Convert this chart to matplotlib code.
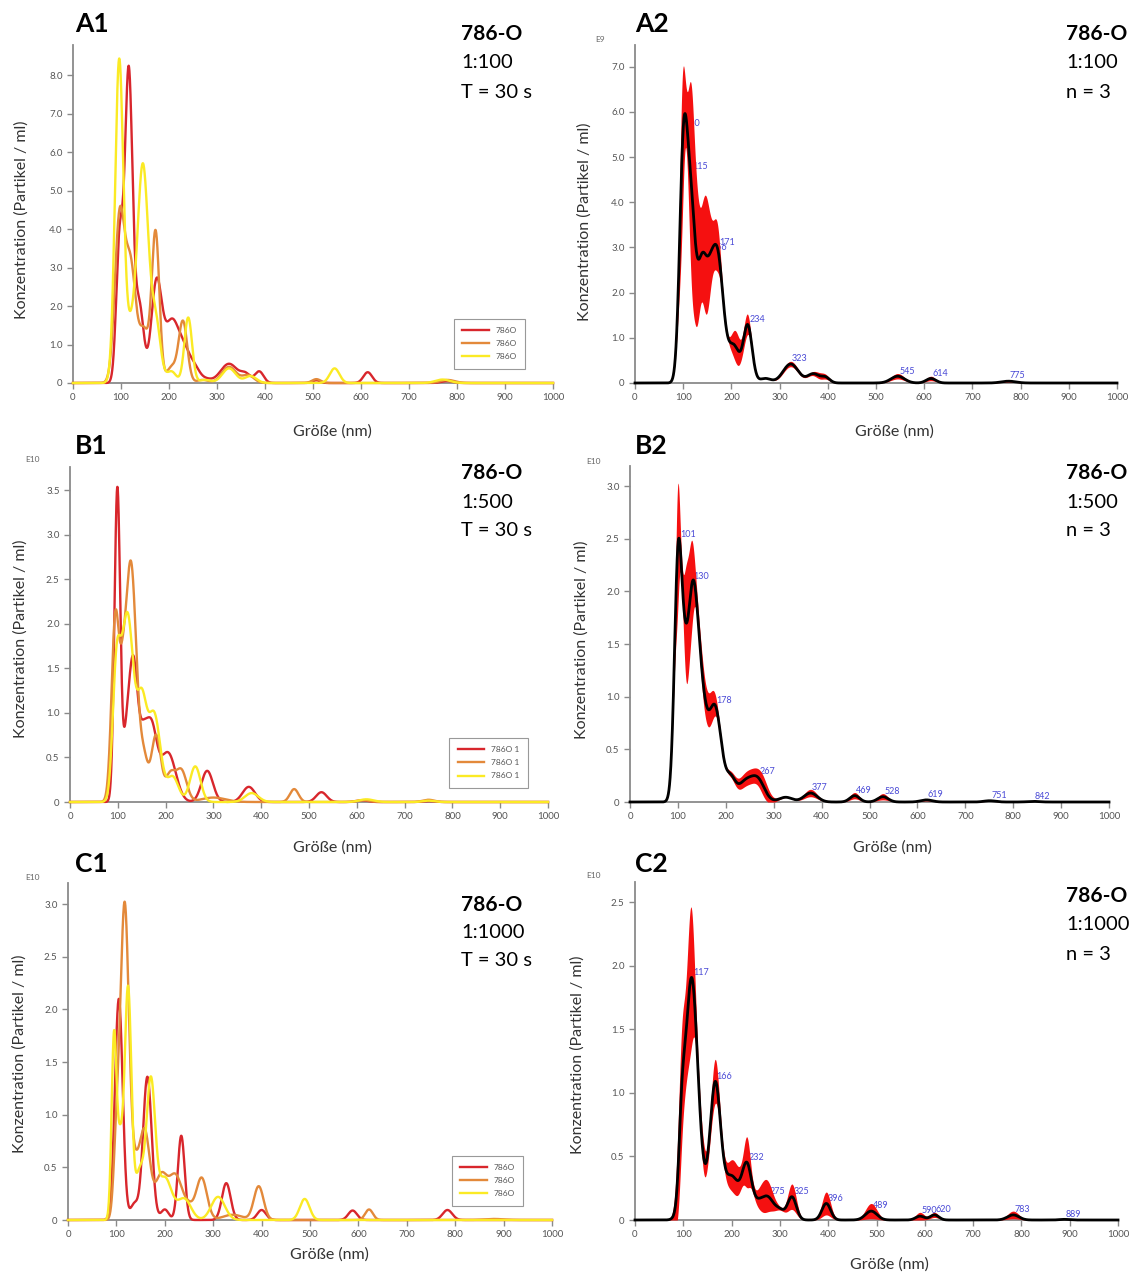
import numpy as np
import matplotlib.pyplot as plt
from matplotlib.ticker import FixedLocator, FuncFormatter

plt.rcParams['font.family'] = ['Lato', 'DejaVu Sans']

# size axis in nm
size = np.linspace(0, 1000, 4001)

# every distribution is a list of peaks: (size nm, height, width nm)
# 1:100, single runs
a1_red = [(97, 3.6, 7), (116, 8.05, 8), (138, 2.0, 9), (174, 2.6, 11), (205, 1.5, 14),
          (232, 0.8, 14), (255, 0.25, 10), (275, 0.1, 12), (325, 0.5, 18), (360, 0.2, 10),
          (388, 0.3, 9), (507, 0.07, 8), (614, 0.28, 9), (779, 0.05, 12)]
a1_orange = [(97, 4.2, 10), (120, 3.0, 11), (148, 1.3, 10), (172, 3.9, 8), (205, 0.4, 10),
             (229, 1.6, 9), (270, 0.08, 12), (325, 0.42, 15), (365, 0.2, 12), (507, 0.1, 9),
             (780, 0.08, 15)]
a1_yellow = [(96, 8.1, 8.5), (120, 1.4, 14), (146, 5.4, 11), (172, 1.6, 10), (205, 0.3, 10),
             (240, 1.7, 8), (275, 0.08, 12), (325, 0.38, 14), (370, 0.18, 12), (545, 0.38, 10),
             (770, 0.09, 15)]

# 1:100, mean of n = 3 with spread
a2_mean = [(100, 4.4, 8), (115, 3.8, 10), (140, 2.5, 10), (156, 0.9, 8), (171, 2.8, 12),
           (205, 0.8, 12), (234, 1.25, 9), (270, 0.1, 12), (323, 0.42, 16), (370, 0.2, 12),
           (395, 0.12, 9), (545, 0.15, 14), (614, 0.1, 10), (775, 0.04, 15)]
a2_spread = [(97, 1.6, 5), (117, 2.0, 6), (128, 1.1, 6), (147, 1.3, 9), (170, 0.5, 7),
             (210, 0.35, 9), (232, 0.22, 7), (323, 0.06, 20), (385, 0.07, 15), (545, 0.06, 14),
             (614, 0.05, 9), (775, 0.02, 15)]
a2_labels = [100, 115, 156, 171, 234, 323, 545, 614, 775]

# 1:500, single runs
b1_red = [(99, 3.5, 6), (118, 0.6, 8), (133, 1.5, 9), (152, 0.45, 8), (169, 0.85, 12),
          (205, 0.55, 16), (287, 0.35, 12), (374, 0.17, 13), (526, 0.11, 11), (610, 0.02, 12),
          (750, 0.01, 12)]
b1_orange = [(95, 2.05, 8), (110, 0.5, 6), (127, 2.7, 12), (155, 0.4, 8), (180, 0.75, 10),
             (210, 0.3, 10), (233, 0.35, 11), (300, 0.05, 25), (469, 0.145, 9), (615, 0.02, 12),
             (750, 0.025, 12)]
b1_yellow = [(97, 1.3, 8), (120, 2.1, 13), (150, 1.0, 10), (176, 0.98, 13), (215, 0.28, 12),
             (262, 0.4, 11), (380, 0.1, 14), (620, 0.03, 15), (750, 0.015, 12)]

# 1:500, mean of n = 3 with spread
b2_mean = [(101, 2.35, 8), (114, 0.35, 6), (130, 1.9, 12), (150, 0.7, 12), (178, 0.87, 13),
           (210, 0.2, 10), (240, 0.18, 15), (267, 0.2, 14), (325, 0.045, 14), (377, 0.085, 14),
           (469, 0.06, 10), (528, 0.05, 11), (619, 0.02, 12), (751, 0.012, 12), (842, 0.006, 12)]
b2_spread = [(99, 0.6, 4), (117, 0.45, 5), (127, 0.4, 6), (150, 0.14, 10), (170, 0.13, 10),
             (250, 0.07, 30), (280, 0.05, 10), (377, 0.035, 14), (469, 0.03, 10), (528, 0.03, 10),
             (619, 0.01, 10), (751, 0.006, 10)]
b2_labels = [101, 130, 178, 267, 377, 469, 528, 619, 751, 842]

# 1:1000, single runs
c1_red = [(105, 2.1, 8), (137, 0.15, 8), (164, 1.36, 9), (200, 0.1, 8), (234, 0.8, 7),
          (327, 0.35, 9), (400, 0.095, 9), (588, 0.09, 9), (784, 0.095, 10)]
c1_orange = [(100, 0.6, 6), (117, 3.0, 9), (138, 0.35, 8), (158, 0.85, 11), (192, 0.4, 12),
             (222, 0.42, 14), (250, 0.1, 10), (276, 0.4, 11), (340, 0.05, 20), (394, 0.32, 10),
             (622, 0.1, 8), (880, 0.01, 20)]
c1_yellow = [(95, 1.7, 5), (107, 0.7, 6), (124, 2.2, 7), (148, 0.45, 9), (171, 1.3, 9),
             (200, 0.4, 14), (240, 0.2, 14), (310, 0.22, 14), (489, 0.2, 10)]

# 1:1000, mean of n = 3 with spread
c2_mean = [(97, 0.5, 6), (117, 1.9, 13), (140, 0.1, 10), (166, 1.05, 11), (200, 0.34, 16),
           (232, 0.4, 10), (255, 0.1, 10), (275, 0.17, 12), (300, 0.07, 10), (325, 0.18, 9),
           (396, 0.13, 9), (489, 0.07, 12), (590, 0.03, 9), (620, 0.04, 9), (783, 0.04, 12),
           (889, 0.005, 10)]
c2_spread = [(95, 0.45, 8), (115, 0.55, 7), (140, 0.12, 8), (165, 0.17, 8), (205, 0.13, 15),
             (232, 0.17, 6), (270, 0.13, 14), (325, 0.1, 9), (396, 0.09, 9), (489, 0.06, 12),
             (590, 0.03, 9), (620, 0.02, 9), (783, 0.03, 12)]
c2_labels = [117, 166, 232, 275, 325, 396, 489, 590, 620, 783, 889]

dilutions = ['1:100', '1:500', '1:1000']
run_names = ['786O', '786O 1', '786O']
run_colors = ['#d8262c', '#e3893a', '#fbea24']


def dist(peaks):
    y = np.zeros_like(size)
    for mu, h, s in peaks:
        y += h * np.exp(-0.5 * ((size - mu) / s) ** 2)
    return y


W, H = 1140, 1276
fig = plt.figure(figsize=(W / 100, H / 100), dpi=100)


def px_axes(x0, x1, top, bottom):
    return fig.add_axes([x0 / W, 1 - bottom / H, (x1 - x0) / W, (bottom - top) / H])


def px_text(x, y, s, **kw):
    fig.text(x / W, 1 - y / H, s, **kw)


def style(ax, ymax, ytop, step):
    ax.set_xlim(0, 1000)
    ax.set_ylim(0, ymax)
    for side in ['top', 'right']:
        ax.spines[side].set_visible(False)
    for side in ['left', 'bottom']:
        ax.spines[side].set_color('#8a8a8a')
        ax.spines[side].set_linewidth(1.3)
    ax.xaxis.set_major_locator(FixedLocator(range(0, 1001, 100)))
    ax.yaxis.set_major_locator(FixedLocator(np.arange(0, ytop + 1e-9, step)))
    ax.yaxis.set_major_formatter(FuncFormatter(lambda v, p: '0' if v == 0 else f'{v:.1f}'))
    ax.tick_params(direction='out', length=4, width=1, color='#8a8a8a',
                   labelsize=7, labelcolor='#555555')
    ax.patch.set_alpha(0)


def runs_panel(ax, curves, names):
    handles = []
    for peaks, c in zip(curves, run_colors):
        h, = ax.plot(size, dist(peaks), color=c, lw=1.7, zorder=3, clip_on=False)
        handles.append(h)
    leg = ax.legend(handles, names, loc='lower left', bbox_to_anchor=(0.785, 0.03),
                    fontsize=6, frameon=True, fancybox=False, edgecolor='#999999',
                    handlelength=3.2, borderpad=1.0, labelspacing=0.75, framealpha=1)
    leg.get_frame().set_linewidth(0.8)
    for t in leg.get_texts():
        t.set_color('#555555')


def mean_panel(ax, mean_peaks, spread_peaks, labels):
    m = dist(mean_peaks)
    e = dist(spread_peaks)
    # peak labels sit under the spread band, as in the instrument export
    for lab in labels:
        ax.annotate(str(lab), (lab, np.interp(lab, size, m)), xytext=(1, 0.5),
                    textcoords='offset points', ha='left', va='bottom',
                    fontsize=6.5, color='#4a4ad6', zorder=2)
    ax.fill_between(size, np.clip(m - e, 0, None), m + e, color='#f51010', lw=0, zorder=2.6)
    ax.plot(size, m, color='black', lw=2, zorder=3, clip_on=False)


panels = [
    # name, axes box (px), ymax, top tick, step, exponent label
    ('A1', (73, 553, 45, 383), 8.78, 8.0, 1.0, None),
    ('A2', (635, 1117, 45, 383), 7.48, 7.0, 1.0, ('E9', 595, 39)),
    ('B1', (70, 548, 467, 802), 3.76, 3.5, 0.5, ('E10', 25, 460)),
    ('B2', (630, 1109, 466, 802), 3.19, 3.0, 0.5, ('E10', 586, 461)),
    ('C1', (68, 552, 883, 1220), 3.2, 3.0, 0.5, ('E10', 25, 877)),
    ('C2', (635, 1118, 882, 1220), 2.66, 2.5, 0.5, ('E10', 586, 875)),
]
run_sets = [[a1_red, a1_orange, a1_yellow], [b1_red, b1_orange, b1_yellow],
            [c1_red, c1_orange, c1_yellow]]
mean_sets = [(a2_mean, a2_spread, a2_labels), (b2_mean, b2_spread, b2_labels),
             (c2_mean, c2_spread, c2_labels)]

# label positions in px: panel tag, sample block, y label, x label
tag_pos = [(75, 24), (635, 24), (75, 446), (635, 446), (75, 864), (635, 864)]
info_pos = [(461, 34), (1066, 34), (461, 473), (1066, 473), (461, 905), (1066, 896)]
info_step = [29, 29, 29, 29, 28, 29]
ylab_pos = [(22, 220), (585, 222), (21, 639), (582, 640), (20, 1054), (578, 1055)]
xlab_pos = [(332, 432), (894, 432), (332, 848), (892, 848), (329, 1255), (889, 1265)]

for i, (name, bx, ymax, ytop, step, expo) in enumerate(panels):
    ax = px_axes(*bx)
    style(ax, ymax, ytop, step)
    row = i // 2
    if i % 2 == 0:
        runs_panel(ax, run_sets[row], [run_names[row]] * 3)
        third = 'T = 30 s'
    else:
        mean_panel(ax, *mean_sets[row])
        third = 'n = 3'
    if expo:
        px_text(expo[1], expo[2], expo[0], fontsize=6, color='#666666', ha='left', va='center')

    px_text(*tag_pos[i], name, fontsize=19, fontweight='bold', ha='left', va='center')
    ix, iy = info_pos[i]
    d = info_step[i]
    px_text(ix, iy, '786-O', fontsize=15, fontweight='bold', ha='left', va='center')
    px_text(ix, iy + d, dilutions[row], fontsize=14.5, ha='left', va='center')
    px_text(ix, iy + 2 * d, third, fontsize=14.5, ha='left', va='center')

    px_text(*ylab_pos[i], 'Konzentration (Partikel / ml)', fontsize=11.5, color='#333333',
            rotation=90, ha='center', va='center')
    px_text(*xlab_pos[i], 'Größe (nm)', fontsize=11.5, color='#333333',
            ha='center', va='center')

fig.savefig('out.png', dpi=100)
